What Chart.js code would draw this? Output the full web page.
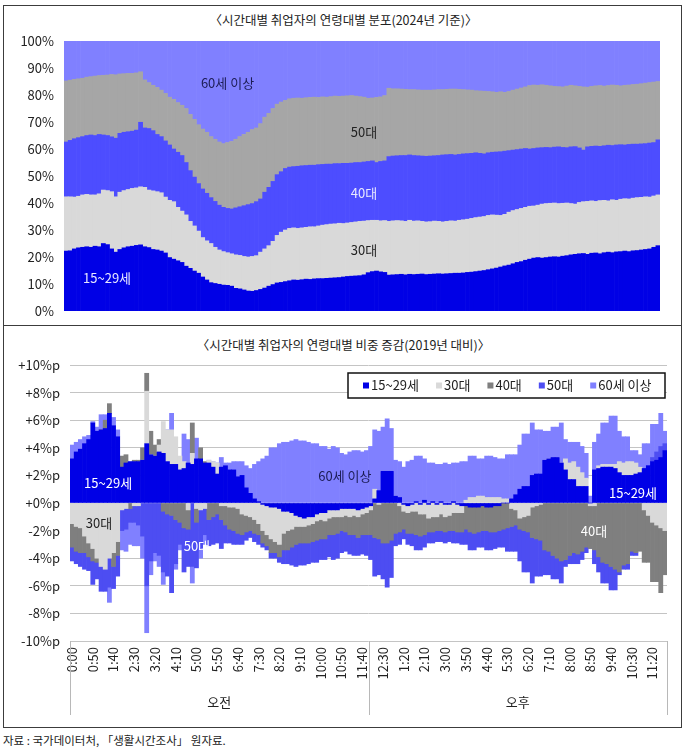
<!DOCTYPE html>
<html><head><meta charset="utf-8">
<script src="https://cdn.jsdelivr.net/npm/chart.js@4.4.1/dist/chart.umd.min.js"></script>
<style>
html,body{margin:0;padding:0;background:#fff;}
body{width:687px;height:751px;position:relative;overflow:hidden;font-family:'Noto Sans CJK KR','Noto Sans',sans-serif;color:#222;}
#frame{position:absolute;left:3px;top:5px;width:677px;height:721px;border:1px solid #3c3c3c;}
#divider{position:absolute;left:3px;top:325px;width:679px;height:0;border-top:1px solid #3c3c3c;}
.title{position:absolute;left:0;width:687px;text-align:center;font-size:12.5px;line-height:16px;color:#222;}
#t1{top:12px;} #t2{top:337px;}
#src{position:absolute;left:3px;top:732px;font-size:11.5px;line-height:16px;color:#222;}
canvas{position:absolute;left:0;}
#c1{top:30px;width:687px;height:295px;} #c2{top:355px;width:687px;height:372px;}
</style></head>
<body>
<div id="frame"></div><div id="divider"></div>
<div class="title" id="t1">〈시간대별 취업자의 연령대별 분포(2024년 기준)〉</div>
<div class="title" id="t2">〈시간대별 취업자의 연령대별 비중 증감(2019년 대비)〉</div>
<canvas id="c1" width="687" height="295"></canvas>
<canvas id="c2" width="687" height="372"></canvas>
<div id="src">자료 : 국가데이터처, 「생활시간조사」 원자료.</div>
<script>
// ---- categories (10-minute slots) ----
const timeLabels = [
'0:00','0:10','0:20','0:30','0:40','0:50','1:00','1:10','1:20','1:30','1:40','1:50',
'2:00','2:10','2:20','2:30','2:40','2:50','3:00','3:10','3:20','3:30','3:40','3:50',
'4:00','4:10','4:20','4:30','4:40','4:50','5:00','5:10','5:20','5:30','5:40','5:50',
'6:00','6:10','6:20','6:30','6:40','6:50','7:00','7:10','7:20','7:30','7:40','7:50',
'8:00','8:10','8:20','8:30','8:40','8:50','9:00','9:10','9:20','9:30','9:40','9:50',
'10:00','10:10','10:20','10:30','10:40','10:50','11:00','11:10','11:20','11:30','11:40','11:50',
'12:00','12:10','12:20','12:30','12:40','12:50','1:00','1:10','1:20','1:30','1:40','1:50',
'2:00','2:10','2:20','2:30','2:40','2:50','3:00','3:10','3:20','3:30','3:40','3:50',
'4:00','4:10','4:20','4:30','4:40','4:50','5:00','5:10','5:20','5:30','5:40','5:50',
'6:00','6:10','6:20','6:30','6:40','6:50','7:00','7:10','7:20','7:30','7:40','7:50',
'8:00','8:10','8:20','8:30','8:40','8:50','9:00','9:10','9:20','9:30','9:40','9:50',
'10:00','10:10','10:20','10:30','10:40','10:50','11:00','11:10','11:20','11:30','11:40','11:50'];
const periodLabels = ['오전','오후'];
const ageGroups = ['15~29세','30대','40대','50대','60세 이상'];
const tickEvery = 5;

// ---- top chart: share of workers by age group (2024, %) ----
const share1529 = [22.2,22.3,23.0,23.4,23.6,23.8,23.6,24.0,23.8,25.0,24.6,23.0,21.8,22.8,23.4,23.8,24.0,24.3,24.5,23.8,
23.5,22.8,22.6,22.2,21.5,19.8,19.2,18.6,18.0,16.6,15.8,14.8,14.0,12.6,11.5,10.5,10.2,9.9,9.6,9.5,
9.2,8.4,8.2,7.8,7.4,7.3,7.6,8.0,8.5,9.2,9.8,10.4,10.6,10.9,11.2,11.5,11.4,11.6,11.8,11.7,
11.9,12.0,12.0,12.1,12.2,12.3,12.4,12.6,12.8,12.9,13.0,13.1,13.4,14.2,14.6,14.8,14.5,14.3,13.3,13.4,
13.5,13.6,13.4,13.6,13.5,13.6,13.7,13.5,13.6,13.7,13.8,13.7,13.8,13.9,14.0,14.0,14.1,14.3,14.4,14.6,
14.8,15.0,15.3,15.6,15.9,16.3,16.7,17.0,17.5,18.0,18.3,18.8,19.2,19.6,19.8,19.6,19.8,20.0,20.1,20.0,
20.3,20.5,20.8,21.0,21.2,21.3,21.0,21.4,21.5,21.2,21.6,21.8,21.6,21.9,22.0,22.2,22.0,22.3,22.4,22.6,
22.8,23.0,23.6,24.2];
const share30 = [20.1,20.0,19.2,19.1,19.4,19.4,19.4,19.0,19.6,19.8,20.0,21.2,20.5,21.2,21.2,21.2,21.4,21.3,21.5,22.0,
21.3,21.7,21.6,21.6,20.7,21.2,21.3,19.8,19.0,19.0,17.4,16.7,15.6,14.6,14.5,14.5,13.4,12.7,12.4,12.1,
12.0,12.4,12.4,12.4,12.6,12.9,12.9,13.8,14.5,15.0,16.0,17.6,18.6,19.1,19.4,19.3,19.2,19.2,19.2,19.5,
19.3,19.5,19.8,19.9,20.0,20.0,20.1,19.8,19.8,19.9,20.0,20.1,19.9,19.3,19.0,18.8,18.9,19.2,19.9,20.0,
20.0,19.8,19.8,20.0,19.8,19.8,19.5,19.5,19.5,19.6,19.4,19.3,19.4,19.5,19.3,19.6,19.7,19.7,19.9,20.0,
20.0,20.0,20.1,20.0,19.6,19.1,19.1,19.6,19.7,19.6,19.7,19.6,19.6,19.3,19.4,20.0,20.0,19.9,19.9,19.8,
19.6,19.5,19.0,18.6,19.0,19.2,19.6,19.4,19.1,19.7,19.4,19.0,19.6,19.1,19.4,19.4,19.5,19.5,19.6,19.5,
19.5,19.2,19.0,18.8];
const share40 = [20.3,20.9,21.6,21.7,21.6,21.8,22.2,22.0,22.0,20.4,20.4,20.3,21.7,21.8,21.6,21.4,21.2,21.4,23.9,22.0,
22.8,22.3,21.2,20.8,20.8,20.5,19.5,20.4,20.6,19.4,18.8,18.1,17.6,18.0,17.6,17.0,17.0,16.6,16.4,16.4,
16.6,17.4,18.0,18.8,19.4,19.6,20.0,19.7,21.0,21.6,22.2,22.5,22.4,22.8,22.7,22.7,23.0,23.0,22.9,22.8,
22.8,22.7,22.5,22.4,22.2,22.3,22.1,22.3,22.1,22.0,22.0,21.8,21.9,21.9,22.0,21.4,22.0,22.1,24.0,24.0,
24.0,24.2,24.4,24.2,24.3,24.1,24.2,24.3,24.3,24.2,24.4,24.8,24.7,24.6,24.5,24.4,24.4,24.3,24.1,24.0,
23.6,23.2,23.2,23.2,23.4,23.6,23.4,22.8,22.4,22.2,22.0,21.8,21.2,21.3,21.2,20.9,20.8,20.6,20.7,21.0,
20.7,20.5,21.0,21.3,20.2,19.1,20.2,20.2,20.5,20.1,20.2,20.6,20.1,20.5,20.2,19.9,20.2,20.0,19.8,19.8,
19.7,20.0,19.8,20.4];
const share50 = [22.6,22.3,22.0,21.8,21.6,21.6,21.6,22.0,21.8,22.1,22.4,23.1,23.5,22.0,21.7,21.6,21.4,21.2,18.7,17.8,
17.0,16.8,17.4,17.2,17.6,17.7,18.4,18.4,18.6,20.0,20.8,21.4,21.8,22.2,22.6,22.6,23.0,23.4,23.6,24.4,
25.0,25.4,26.0,26.4,26.8,27.4,27.3,27.9,27.8,27.4,27.0,26.1,25.8,25.2,25.3,25.3,25.3,25.0,25.1,25.1,
25.2,24.9,25.0,24.8,25.0,25.0,24.9,24.9,25.0,25.0,24.6,24.4,24.0,23.4,23.3,24.1,23.9,24.2,25.3,24.9,
24.8,24.6,24.5,24.2,24.4,24.4,24.4,24.5,24.4,24.4,24.4,24.2,24.2,24.2,24.4,24.1,23.8,23.6,23.4,23.0,
23.1,23.2,22.7,22.4,22.1,22.2,21.8,21.9,22.2,22.4,22.6,22.8,23.5,23.5,23.2,23.3,23.0,22.9,22.5,22.3,
22.4,22.8,22.8,22.5,22.8,23.4,22.1,22.2,22.3,22.5,22.1,22.1,22.4,22.1,21.8,22.1,22.0,22.1,22.2,22.3,
22.4,22.4,22.4,21.6];
const share60 = [14.8,14.5,14.2,14.0,13.8,13.4,13.2,13.0,12.8,12.7,12.6,12.4,12.5,12.2,12.1,12.0,12.0,11.8,11.4,14.4,
15.4,16.4,17.2,18.2,19.4,20.8,21.6,22.8,23.8,25.0,27.2,29.0,31.0,32.6,33.8,35.4,36.4,37.4,38.0,37.6,
37.2,36.4,35.4,34.6,33.8,32.8,32.2,30.6,28.2,26.8,25.0,23.4,22.6,22.0,21.4,21.2,21.1,21.2,21.0,20.9,
20.8,20.9,20.7,20.8,20.6,20.4,20.5,20.4,20.3,20.2,20.4,20.6,20.8,21.2,21.1,20.9,20.7,20.2,17.5,17.7,
17.7,17.8,17.9,18.0,18.0,18.1,18.2,18.2,18.2,18.1,18.0,18.0,17.9,17.8,17.8,17.9,18.0,18.1,18.2,18.4,
18.5,18.6,18.7,18.8,19.0,18.8,19.0,18.7,18.2,17.8,17.4,17.0,16.5,16.3,16.4,16.2,16.4,16.6,16.8,16.9,
17.0,16.7,16.4,16.6,16.8,17.0,17.1,16.8,16.6,16.5,16.7,16.5,16.3,16.4,16.6,16.4,16.3,16.1,16.0,15.8,
15.6,15.4,15.2,15.0];

// ---- bottom chart: change in share vs 2019 (%p) ----
const chg1529 = [3.2,3.7,3.9,4.3,4.6,5.8,5.2,5.3,5.4,6.5,5.6,4.8,2.6,2.9,3.0,3.0,3.0,3.1,4.3,3.5,
3.4,3.7,3.6,3.0,2.8,2.8,2.4,2.5,2.9,2.8,3.2,3.2,2.9,2.9,2.6,2.1,2.6,2.7,2.4,2.4,
1.9,2.0,1.1,0.7,0.3,0.1,-0.1,-0.2,-0.3,-0.3,-0.4,-0.6,-0.6,-0.7,-0.9,-1.0,-1.1,-1.0,-1.0,-0.8,
-0.7,-0.7,-0.5,-0.5,-0.5,-0.4,-0.4,-0.4,-0.4,-0.5,-0.4,-0.3,-0.2,0.3,0.9,2.3,2.3,2.3,0.5,0.4,
-0.1,-0.2,-0.1,0.1,-0.1,0.2,-0.1,0.1,-0.1,0.1,-0.1,-0.1,0.1,-0.1,-0.2,-0.2,-0.3,-0.3,-0.3,-0.2,
-0.3,-0.3,-0.2,-0.2,0,0,0.3,0.6,1.0,1.2,1.2,2.0,2.1,2.1,3.1,3.2,3.3,3.3,2.9,2.4,
1.7,1.7,1.2,1.2,1.2,0,2.4,2.5,2.6,2.6,2.6,2.5,2.2,2.0,2.0,2.0,2.1,2.2,2.5,2.7,
3.0,3.1,3.3,3.8];
const chg30 = [-1.5,-1.7,-1.8,-2.4,-2.9,-3.3,-4.0,-4.6,-4.8,-4.0,-3.6,-2.8,-0.5,-0.4,0,-0.2,-0.2,0,3.8,0,
0,0.5,2.3,2.3,2.5,2.0,1.0,0.5,-0.5,0.8,-0.4,-0.5,-0.4,0.2,0.4,0.8,-0.2,-0.2,-0.3,-0.3,
-0.4,-0.8,-0.9,-1.0,-1.2,-1.5,-1.9,-2.1,-2.3,-2.5,-2.6,-1.6,-1.4,-1.2,-0.8,-0.7,-0.6,-0.6,-0.5,-0.5,
-0.5,-0.6,-0.6,-0.5,-0.5,-0.6,-0.5,-0.6,-0.5,-0.5,-0.4,-0.4,-0.3,0.7,-0.1,0,0,0,0,-0.2,
-0.5,-0.5,-0.5,-0.6,-0.7,-0.8,-1.0,-1.0,-0.9,-0.8,-0.9,-0.8,-0.7,-0.6,-0.5,0.2,0.4,0.4,0.5,0.5,
0.4,0.4,0.4,0.4,0.3,0.3,-0.4,-0.5,-1.1,-1.0,-0.9,-0.3,-0.2,-0.1,0,0,0,0,0,0.8,
1.2,1.3,1.4,1.0,0.6,-0.2,-0.2,0.2,0.2,0.2,0.2,0.3,0.8,0.9,1.0,1.0,0.8,0.4,-0.5,-0.9,
-1.4,-1.6,-1.8,-2.0];
const chg40 = [-1.7,-1.8,-1.8,-1.2,-1.0,-0.9,-0.3,0,0.6,0.7,-1.0,-1.0,0.8,0.6,-0.4,0.1,0.1,0.9,1.3,1.7,
0.8,0.4,-0.6,-0.8,-0.9,-1.2,-1.4,-1.8,-1.4,2.2,-1.0,0.8,0.1,-1.2,-1.0,-0.8,-1.0,-1.4,-1.6,-1.7,
-1.8,-1.5,-1.2,-1.0,-1.0,-0.8,-0.9,-0.8,-1.0,-0.8,-0.9,-1.2,-1.4,-1.3,-1.3,-1.2,-1.2,-1.3,-1.3,-1.4,
-1.4,-1.3,-1.2,-1.3,-1.2,-1.0,-1.2,-1.3,-1.4,-1.5,-1.5,-1.6,-1.8,-2.5,-2.5,-2.9,-2.9,-2.7,-2.2,-1.9,
-1.3,-1.5,-1.6,-1.7,-1.6,-1.5,-1.0,-1.1,-1.0,-1.2,-1.1,-1.1,-1.3,-1.4,-1.4,-1.7,-1.8,-1.9,-1.8,-1.8,
-1.7,-1.8,-1.9,-1.8,-1.9,-1.8,-1.3,-1.1,-0.8,-1.0,-1.2,-2.2,-2.4,-2.6,-3.4,-3.5,-3.8,-4.0,-4.2,-4.1,
-3.8,-3.6,-3.7,-3.5,-3.2,-3.1,-3.2,-3.9,-4.3,-4.4,-4.6,-4.8,-5.0,-4.5,-4.4,-3.5,-3.6,-3.5,-3.8,-3.4,
-4.3,-4.1,-4.7,-3.2];
const chg50 = [-1.0,-0.9,-1.0,-1.2,-1.0,-1.7,-1.2,-1.8,-1.6,-2.1,-1.6,-1.5,-1.5,-1.5,-1.0,-1.2,-1.4,-2.4,-6.0,-4.2,
-3.6,-3.8,-4.4,-4.5,-5.6,-3.2,-1.6,-3.2,-2.7,-4.6,-3.3,-2.8,-1.9,-1.9,-2.0,-2.1,-2.1,-1.3,-1.0,-1.0,
-0.8,-0.7,-0.6,-0.5,-0.6,-0.7,-0.3,-0.3,-0.4,-0.4,-0.4,-1.0,-1.0,-1.3,-1.6,-1.6,-1.6,-1.5,-1.5,-1.6,
-1.5,-1.5,-1.6,-1.8,-1.8,-1.6,-1.4,-1.4,-1.5,-1.3,-1.4,-1.5,-1.8,-2.8,-2.6,-2.6,-3.2,-2.7,-0.9,-0.9,
-0.7,-0.8,-0.9,-1.1,-1.0,-0.9,-0.8,-0.8,-0.8,-0.8,-0.8,-0.8,-0.9,-0.8,-0.9,-1.1,-1.3,-1.2,-1.1,-1.2,
-1.4,-1.3,-1.2,-1.2,-1.3,-1.7,-1.8,-1.9,-2.3,-3.0,-2.9,-3.3,-2.7,-2.6,-1.8,-1.7,-1.7,-1.5,-1.6,-0.5,
-0.6,-0.8,-0.7,-0.6,-0.4,0,-1.0,-1.1,-1.5,-1.4,-1.7,-1.5,-0.2,-0.3,-0.4,-0.3,-0.2,0,0,0,
0.3,0.6,0.8,0.5];
const chg60 = [1.0,0.7,0.7,0.5,0.3,0.1,0.3,1.1,0.4,-1.1,0.6,0.5,-1.4,-1.6,-1.6,-1.7,-1.5,-1.6,-3.4,-1.0,
-0.6,-0.8,-0.9,0,1.2,-0.4,-0.4,2.0,1.7,-1.2,1.5,-0.7,-0.7,0,0,0,0.7,0.2,0.5,0.6,
1.1,1.0,1.6,1.8,2.5,2.9,3.2,3.4,4.0,4.0,4.3,4.4,4.4,4.5,4.6,4.5,4.5,4.4,4.3,4.3,
4.1,4.1,3.9,4.1,4.0,3.6,3.5,3.7,3.8,3.8,3.7,3.8,4.1,4.3,4.3,3.2,3.8,3.1,2.6,2.6,
2.6,3.0,3.1,3.3,3.4,3.0,2.9,2.8,2.8,2.7,2.9,2.8,2.8,2.9,3.0,2.8,3.0,3.0,2.7,2.7,
3.0,3.0,2.9,2.8,2.9,3.2,3.2,2.9,3.2,3.8,3.8,3.8,3.2,3.2,2.1,2.0,2.2,2.2,2.9,1.4,
1.5,1.4,1.8,1.9,1.8,0.5,2.0,2.3,3.0,3.0,3.5,3.5,2.2,1.9,1.8,0.8,0.9,0.9,1.8,1.6,
2.4,2.0,2.4,0.9];

const topSeries = [share1529, share30, share40, share50, share60];
const botSeries = [chg1529, chg30, chg40, chg50, chg60];
const topColors = ['#0000e6','#d9d9d9','#4d4dff','#a6a6a6','#8080ff'];
const botColors = ['#0000e6','#d9d9d9','#7f7f7f','#4d4df2','#8080ff'];

Chart.defaults.font.family = "'Noto Sans CJK KR','Noto Sans',sans-serif";
Chart.defaults.font.size = 13;
Chart.defaults.color = '#222';

const FONT = "13px 'Noto Sans CJK KR','Noto Sans',sans-serif";

function areaLabels(id, items){
  return { id, afterDatasetsDraw(chart){
    const ctx = chart.ctx, xs = chart.scales.x, ys = chart.scales.y;
    ctx.save(); ctx.font = FONT; ctx.textAlign = 'center'; ctx.textBaseline = 'middle';
    items.forEach(it => { ctx.fillStyle = it.color; ctx.fillText(it.text, xs.getPixelForValue(it.i), ys.getPixelForValue(it.v)); });
    ctx.restore();
  }};
}
function noOverflow(s){ s.paddingTop = 0; s.paddingBottom = 0; s.paddingLeft = 0; s.paddingRight = 0; }

// top chart
new Chart(document.getElementById('c1'), {
  type: 'bar',
  data: { labels: timeLabels, datasets: topSeries.map((d,k)=>({label: ageGroups[k], data: d, backgroundColor: topColors[k], borderWidth: 0, barPercentage: 1, categoryPercentage: 1})) },
  options: {
    responsive: false, animation: false, devicePixelRatio: 1,
    layout: { padding: { top: 11, right: 27, bottom: 14, left: 0 } },
    plugins: { legend: { display: false }, tooltip: { enabled: false } },
    scales: {
      x: { stacked: true, display: false },
      y: { stacked: true, min: 0, max: 100,
           ticks: { stepSize: 10, padding: 10, color: '#222', callback: v => v + '%' },
           grid: { display: false, drawTicks: false }, border: { display: false },
           afterFit(s){ s.width = 64; noOverflow(s); } }
    }
  },
  plugins: [areaLabels('topLabels', [
    {text: ageGroups[4], i: 39, v: 84.4, color: '#1c1c55'},
    {text: ageGroups[3], i: 72, v: 66.3, color: '#222'},
    {text: ageGroups[2], i: 72, v: 43.7, color: '#e8e8ff'},
    {text: ageGroups[1], i: 72, v: 22.6, color: '#222'},
    {text: ageGroups[0], i: 9.9, v: 12.2, color: '#e8e8ff'}
  ])]
});

// bottom chart
const yTickText = v => (v > 0 ? '+' : (v < 0 ? '-' : '+')) + Math.abs(v) + '%p';

const groupAxis = { id: 'groupAxis', afterDraw(chart){
  const ctx = chart.ctx, xs = chart.scales.x, top = chart.chartArea.bottom;
  ctx.save();
  ctx.strokeStyle = '#b8b8b8'; ctx.lineWidth = 1;
  const n = timeLabels.length, half = n / 2;
  [-0.5, half - 0.5, n - 0.5].forEach(v => {
    const px = Math.round(xs.getPixelForValue(v)) + 0.5;
    ctx.beginPath(); ctx.moveTo(px, top); ctx.lineTo(px, top + 74); ctx.stroke();
  });
  ctx.font = FONT; ctx.fillStyle = '#222'; ctx.textAlign = 'center'; ctx.textBaseline = 'middle';
  periodLabels.forEach((t, k) => {
    const a = xs.getPixelForValue(k * half - 0.5), b = xs.getPixelForValue((k + 1) * half - 0.5);
    ctx.fillText(t, (a + b) / 2, top + 61);
  });
  ctx.restore();
}};

const boxLegend = { id: 'boxLegend', afterDraw(chart){
  const ctx = chart.ctx, ca = chart.chartArea;
  const x1 = ca.right - 2, x0 = x1 - 317, y0 = ca.top + 8, y1 = y0 + 25;
  ctx.save();
  ctx.fillStyle = '#fff'; ctx.fillRect(x0, y0, x1 - x0, y1 - y0);
  ctx.strokeStyle = '#111'; ctx.lineWidth = 1.5; ctx.strokeRect(x0, y0, x1 - x0, y1 - y0);
  ctx.font = FONT; ctx.textBaseline = 'middle'; ctx.textAlign = 'left';
  let x = x0 + 15; const cy = (y0 + y1) / 2;
  chart.data.datasets.forEach(ds => {
    ctx.fillStyle = ds.backgroundColor; ctx.fillRect(x, cy - 3, 6, 6);
    ctx.fillStyle = '#222'; ctx.fillText(ds.label, x + 8, cy);
    x += 8 + ctx.measureText(ds.label).width + 17;
  });
  ctx.restore();
}};

new Chart(document.getElementById('c2'), {
  type: 'bar',
  data: { labels: timeLabels, datasets: botSeries.map((d,k)=>({label: ageGroups[k], data: d, backgroundColor: botColors[k], borderWidth: 0, barPercentage: 1, categoryPercentage: 1})) },
  options: {
    responsive: false, animation: false, devicePixelRatio: 1,
    layout: { padding: { top: 10, right: 20, bottom: 0, left: 0 } },
    plugins: { legend: { display: false }, tooltip: { enabled: false } },
    scales: {
      x: { stacked: true,
           grid: { display: false, drawTicks: false }, border: { display: false },
           ticks: { autoSkip: false, minRotation: 90, maxRotation: 90, padding: 6, color: '#222',
                    callback: (v, i) => (i % tickEvery === 0 ? timeLabels[i] : '') },
           afterFit(s){ s.height = 86; noOverflow(s); } },
      y: { stacked: true, min: -10, max: 10,
           ticks: { stepSize: 2, padding: 10, color: '#222', callback: yTickText },
           grid: { color: '#c4c4c4', lineWidth: 1, drawTicks: false }, border: { display: false },
           afterFit(s){ s.width = 70; noOverflow(s); } }
    }
  },
  plugins: [areaLabels('botLabels', [
    {text: ageGroups[0], i: 8.7, v: 1.45, color: '#ffffff'},
    {text: ageGroups[4], i: 65.8, v: 1.96, color: '#1c1c55'},
    {text: ageGroups[0], i: 135.3, v: 0.72, color: '#ffffff'},
    {text: ageGroups[1], i: 6.5, v: -1.45, color: '#222'},
    {text: ageGroups[3], i: 30.1, v: -3.1, color: '#ffffff'},
    {text: ageGroups[2], i: 125.9, v: -2.03, color: '#ffffff'}
  ]), groupAxis, boxLegend]
});
</script>
</body></html>
